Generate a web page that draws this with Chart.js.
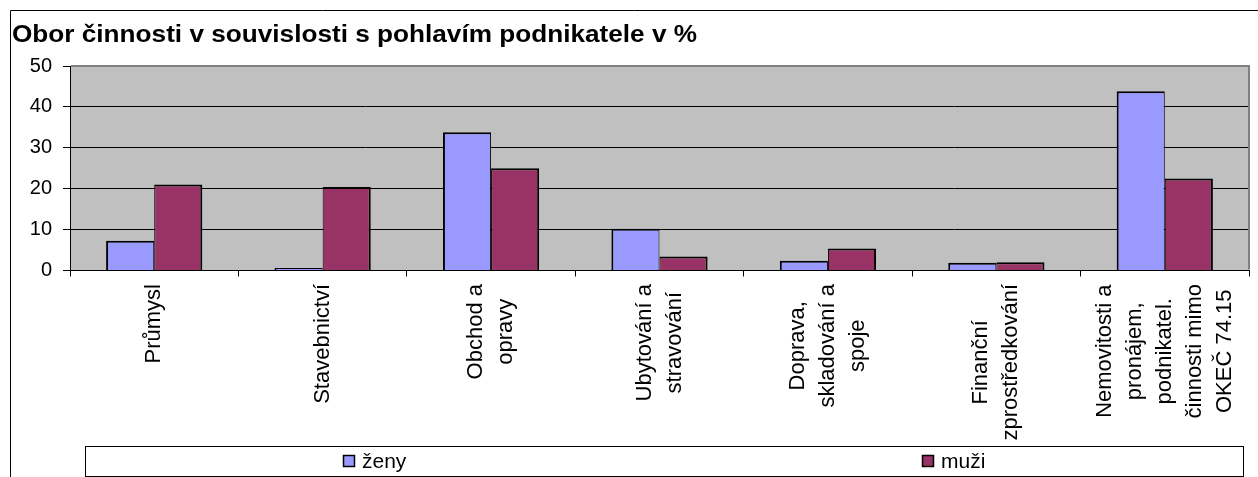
<!DOCTYPE html>
<html>
<head>
<meta charset="utf-8">
<script src="https://cdn.jsdelivr.net/npm/chart.js@4.4.1/dist/chart.umd.min.js"></script>
<style>
  html, body { margin: 0; padding: 0; background: #fff; }
  #wrap { width: 1258px; height: 477px; }
</style>
</head>
<body>
<div id="wrap"><canvas id="chart" width="1258" height="477"></canvas></div>
<script>
const titleText = 'Obor činnosti v souvislosti s pohlavím podnikatele v %';
const categories = [
  ['Průmysl'],
  ['Stavebnictví'],
  ['Obchod a', 'opravy'],
  ['Ubytování a', 'stravování'],
  ['Doprava,', 'skladování a', 'spoje'],
  ['Finanční', 'zprostředkování'],
  ['Nemovitosti a', 'pronájem,', 'podnikatel.', 'činnosti mimo', 'OKEČ 74.15']
];
const seriesNames = ['ženy', 'muži'];
const zeny = [7.3, 0.6, 33.8, 10.2, 2.4, 1.9, 43.8];
const muzi = [21.0, 20.4, 25.0, 3.4, 5.4, 2.0, 22.5];
const yMin = 0, yMax = 50, yStep = 10;

const FONT = "'Liberation Sans', Arial, sans-serif";
const colors = ['#9999FF', '#993366'];

// white background, outer frame and grey plot area
const framePlugin = {
  id: 'frame',
  beforeDraw(chart) {
    const { ctx, chartArea: a } = chart;
    ctx.save();
    ctx.fillStyle = '#fff';
    ctx.fillRect(0, 0, chart.width, chart.height);
    ctx.strokeStyle = '#000';
    ctx.lineWidth = 1;
    ctx.beginPath();
    ctx.moveTo(10.5, chart.height);
    ctx.lineTo(10.5, 10.5);
    ctx.lineTo(chart.width, 10.5);
    ctx.stroke();
    ctx.fillStyle = '#C0C0C0';
    ctx.fillRect(a.left, a.top, a.right - a.left, a.bottom - a.top);
    ctx.restore();
  },
  afterDraw(chart) {
    const { ctx, chartArea: a } = chart;
    ctx.save();
    ctx.fillStyle = '#808080';
    ctx.fillRect(a.left + 1, a.top - 1, a.right - a.left, 2);
    ctx.fillRect(a.right - 1, a.top - 1, 2, a.bottom - a.top);
    ctx.restore();
  }
};

// title, stretched a little wider like the original
const titlePlugin = {
  id: 'customTitle',
  afterDraw(chart) {
    const { ctx } = chart;
    ctx.save();
    ctx.font = 'bold 23px ' + FONT;
    ctx.fillStyle = '#000';
    ctx.textBaseline = 'alphabetic';
    ctx.textAlign = 'left';
    const w = ctx.measureText(titleText).width;
    const target = 685;
    ctx.translate(12, 41.5);
    ctx.scale(target / w, 1);
    ctx.fillText(titleText, 0, 0);
    ctx.restore();
  }
};

// rotated multi-line category labels, lines centred
const xLabelPlugin = {
  id: 'xLabels',
  afterDraw(chart) {
    const { ctx } = chart;
    const xs = chart.scales.x;
    const top = chart.chartArea.bottom + 13.5;
    const lh = 30;
    ctx.save();
    ctx.font = '22px ' + FONT;
    ctx.fillStyle = '#000';
    ctx.textAlign = 'center';
    ctx.textBaseline = 'middle';
    categories.forEach((lines, i) => {
      const x = xs.getPixelForValue(i);
      const maxW = Math.max(...lines.map(l => ctx.measureText(l).width));
      ctx.save();
      ctx.translate(x, top + maxW / 2);
      ctx.rotate(-Math.PI / 2);
      lines.forEach((l, j) => {
        ctx.fillText(l, 0, (j - (lines.length - 1) / 2) * lh);
      });
      ctx.restore();
    });
    ctx.restore();
  }
};

// legend box across the bottom, one item centred in each half
const legendPlugin = {
  id: 'customLegend',
  afterDraw(chart) {
    const { ctx } = chart;
    const bx = 85, by = 446, bw = 1158, bh = 30;
    const cy = 461;
    ctx.save();
    ctx.strokeStyle = '#000';
    ctx.lineWidth = 1;
    ctx.strokeRect(bx + 0.5, by + 0.5, bw, bh);
    ctx.font = '21px ' + FONT;
    ctx.textBaseline = 'middle';
    ctx.textAlign = 'left';
    const half = bw / seriesNames.length;
    seriesNames.forEach((name, i) => {
      const tw = ctx.measureText(name).width;
      const itemW = 12 + 7 + tw;
      const sx = Math.round(bx + half * i + half / 2 - itemW / 2);
      ctx.fillStyle = colors[i];
      ctx.fillRect(sx, cy - 6, 12, 12);
      ctx.strokeStyle = '#000';
      ctx.lineWidth = 1.5;
      ctx.strokeRect(sx + 0.5, cy - 5.5, 11, 11);
      ctx.fillStyle = '#000';
      ctx.fillText(name, sx + 19, cy + 1);
    });
    ctx.restore();
  }
};

new Chart(document.getElementById('chart'), {
  type: 'bar',
  data: {
    labels: categories,
    datasets: [
      {
        label: seriesNames[0],
        data: zeny,
        backgroundColor: colors[0],
        borderColor: '#000',
        borderWidth: { top: 2, left: 2, right: 1, bottom: 0 },
        borderSkipped: 'start'
      },
      {
        label: seriesNames[1],
        data: muzi,
        backgroundColor: colors[1],
        borderColor: '#000',
        borderWidth: { top: 2, left: 1, right: 2, bottom: 0 },
        borderSkipped: 'start'
      }
    ]
  },
  options: {
    responsive: false,
    animation: false,
    devicePixelRatio: 1,
    categoryPercentage: 0.5714,
    barPercentage: 1,
    layout: { padding: { left: 10, top: 66, right: 9, bottom: 0 } },
    plugins: {
      legend: { display: false },
      title: { display: false },
      tooltip: { enabled: false }
    },
    scales: {
      x: {
        ticks: { display: false },
        grid: {
          display: true,
          drawOnChartArea: false,
          drawTicks: true,
          tickLength: 6,
          color: '#000',
          tickColor: '#000'
        },
        border: { display: true, color: '#000', width: 1 },
        afterFit(scale) { scale.height = 206.5; }
      },
      y: {
        min: yMin,
        max: yMax,
        ticks: {
          stepSize: yStep,
          color: '#000',
          padding: 11,
          font: { family: FONT, size: 20 }
        },
        grid: {
          color: ctx => (ctx.tick && (ctx.tick.value === yMin || ctx.tick.value === yMax)) ? 'rgba(0,0,0,0)' : '#000',
          tickColor: '#000',
          tickLength: 7,
          lineWidth: 1
        },
        border: { display: true, color: '#000', width: 1 },
        afterFit(scale) { scale.width = 60; }
      }
    }
  },
  plugins: [framePlugin, titlePlugin, xLabelPlugin, legendPlugin]
});
</script>
</body>
</html>
